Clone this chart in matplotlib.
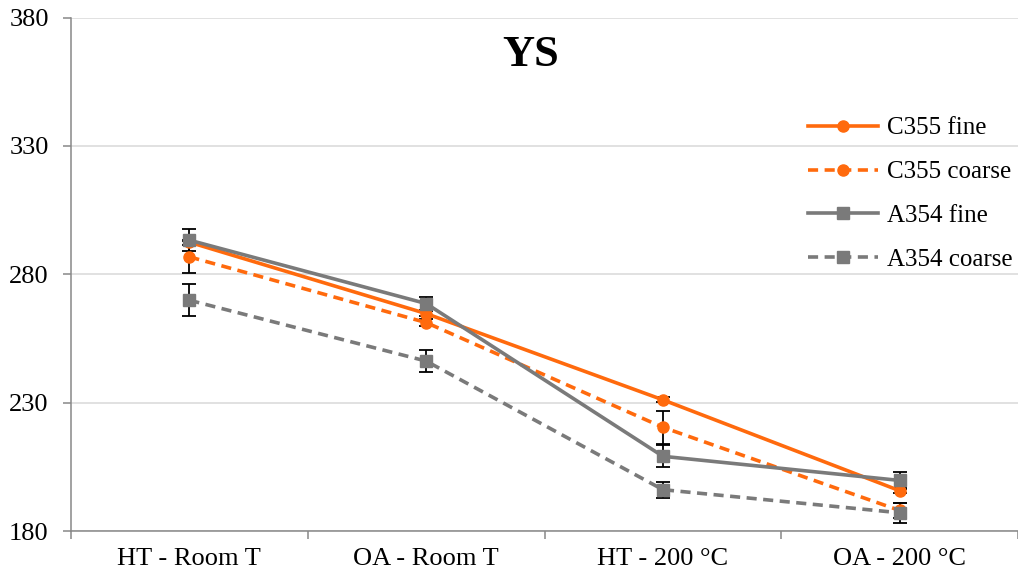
import matplotlib
matplotlib.use("Agg")
import matplotlib.pyplot as plt
import numpy as np

# categories and values
categories = ["HT - Room T", "OA - Room T", "HT - 200 °C", "OA - 200 °C"]

c355_fine = [292.5, 264.7, 231.1, 195.7]
c355_fine_err = [1.0, 1.0, 1.0, 1.0]
c355_coarse = [286.8, 261.2, 220.4, 188.0]
c355_coarse_err = [6.1, 1.5, 6.4, 3.0]
a354_fine = [293.3, 268.6, 209.1, 199.7]
a354_fine_err = [4.2, 2.7, 4.3, 3.3]
a354_coarse = [269.9, 246.2, 196.1, 187.1]
a354_coarse_err = [6.2, 4.2, 3.1, 4.0]

plt.rcParams['font.family'] = ['Liberation Serif', 'DejaVu Serif']

orange = "#FF6A0D"
gray = "#7A7A7A"

fig = plt.figure(figsize=(10.18, 5.78), dpi=100)
ax = fig.add_axes([71 / 1018, 47 / 578, 947 / 1018, 513.4 / 578])

x = np.arange(len(categories))

series = [
    ("C355 fine", c355_fine, c355_fine_err, orange, "-", "o"),
    ("C355 coarse", c355_coarse, c355_coarse_err, orange, "--", "o"),
    ("A354 fine", a354_fine, a354_fine_err, gray, "-", "s"),
    ("A354 coarse", a354_coarse, a354_coarse_err, gray, "--", "s"),
]

handles, labels = [], []
for label, vals, err, col, ls, mk in series:
    eb = ax.errorbar(x, vals, yerr=err, color=col, linestyle=ls, linewidth=2.6,
                     marker=mk, markersize=8, ecolor="black", elinewidth=1.3,
                     capsize=5, capthick=1.3)
    if ls == "--":
        eb[0].set_dashes((2.8, 1.8))
    handles.append(eb[0])
    labels.append(label)

ax.set_xlim(-0.5, 3.5)
ax.set_ylim(180, 380)
ax.set_yticks([180, 230, 280, 330, 380])
ax.grid(axis="y", color="#D9D9D9", linewidth=1.1)
ax.set_axisbelow(True)

ax.set_xticks(x)
ax.set_xticklabels(categories)
ax.set_xticks(np.arange(-0.5, 4.0, 1.0), minor=True)
ax.tick_params(axis="x", which="major", length=0, pad=12, labelsize=19)
ax.tick_params(axis="x", which="minor", length=6, color="#888888", width=1.1)
ax.tick_params(axis="y", length=6, color="#888888", width=1.1, pad=10, labelsize=19)

for side in ["top", "right"]:
    ax.spines[side].set_visible(False)
for side in ["left", "bottom"]:
    ax.spines[side].set_color("#888888")
    ax.spines[side].set_linewidth(1.1)

fig.text(531 / 1018, 1 - 55 / 578, "YS", ha="center", va="center",
         fontsize=32, fontweight="bold")

ax.legend(handles, labels, loc="upper left",
          bbox_to_anchor=(808 / 1018, 1 - 117 / 578),
          bbox_transform=fig.transFigure, frameon=False, fontsize=18,
          handlelength=2.8, handletextpad=0.35, labelspacing=0.85,
          borderaxespad=0, borderpad=0)

fig.savefig("out.png", dpi=100)
